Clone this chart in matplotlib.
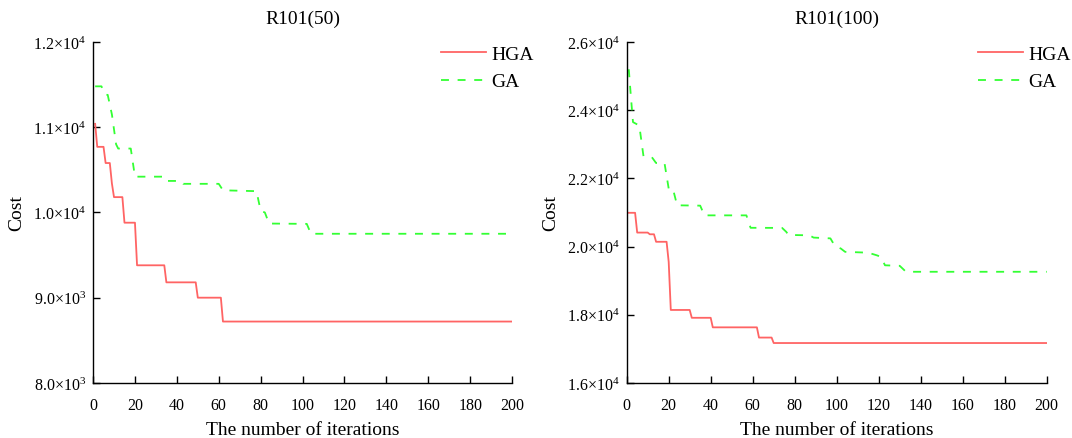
import matplotlib
matplotlib.use("Agg")
import matplotlib.pyplot as plt
from matplotlib.ticker import FuncFormatter
import numpy as np

plt.rcParams['font.family'] = ['Liberation Serif', 'DejaVu Serif']
plt.rcParams['mathtext.fontset'] = 'custom'
plt.rcParams['mathtext.rm'] = 'Liberation Serif'
plt.rcParams['mathtext.it'] = 'Liberation Serif:italic'
plt.rcParams['mathtext.default'] = 'regular'

# R101(50) - cost vs iteration
hga50_iter = [1, 2, 5, 6, 8, 9, 10, 14, 15, 20, 21, 34, 35, 49, 50, 61, 62, 200]
hga50_cost = [11040, 10770, 10770, 10580, 10580, 10340, 10180, 10180, 9880, 9880,
              9380, 9380, 9180, 9180, 9000, 9000, 8720, 8720]
ga50_iter = [1, 4, 6, 7, 9, 11, 12, 18, 20, 33, 34, 42, 43, 60, 62, 78, 80, 82,
             84, 102, 104, 200]
ga50_cost = [11480, 11480, 11380, 11380, 11150, 10800, 10750, 10750, 10420, 10420,
             10370, 10370, 10336, 10336, 10260, 10250, 10020, 10000, 9870, 9866,
             9750, 9750]

# R101(100)
hga100_iter = [1, 4, 5, 10, 11, 13, 14, 19, 20, 21, 30, 31, 40, 41, 62, 63, 69, 70, 200]
hga100_cost = [20990, 20990, 20410, 20410, 20360, 20360, 20140, 20140, 19550, 18140,
               18140, 17910, 17910, 17630, 17630, 17330, 17330, 17170, 17170]
ga100_iter = [1, 2, 3, 6, 8, 12, 14, 18, 20, 22, 24, 35, 37, 57, 59, 74, 76, 77,
              87, 89, 97, 99, 102, 104, 115, 119, 121, 123, 130, 133, 200]
ga100_cost = [25200, 24400, 23650, 23550, 22650, 22620, 22450, 22450, 21700, 21700,
              21210, 21200, 20915, 20915, 20550, 20547, 20430, 20340, 20330, 20263,
              20240, 20030, 19940, 19845, 19820, 19745, 19700, 19450, 19435, 19260,
              19260]

titles = ['R101(50)', 'R101(100)']
yticks_50 = [8000, 9000, 10000, 11000, 12000]
yticks_100 = [16000, 18000, 20000, 22000, 24000, 26000]
xticks = np.arange(0, 201, 20)


def sci_label(v, pos):
    e = int(np.floor(np.log10(v)))
    m = v / 10 ** e
    return f'{m:.1f}×10$^{{{e}}}$'


fig = plt.figure(figsize=(10.72, 4.39), dpi=100)
ax1 = fig.add_axes([0.0868, 0.1255, 0.3909, 0.7765])
ax2 = fig.add_axes([0.5846, 0.1255, 0.3918, 0.7765])

panels = [
    (ax1, hga50_iter, hga50_cost, ga50_iter, ga50_cost, yticks_50, 0.83),
    (ax2, hga100_iter, hga100_cost, ga100_iter, ga100_cost, yticks_100, 0.836),
]

for i, (ax, hx, hy, gx, gy, yt, lx) in enumerate(panels):
    ax.plot(hx, hy, color='#FF6464', lw=1.3, label='HGA')
    ax.plot(gx, gy, color='#33FF33', lw=1.3, ls=(0, (4.4, 4.8)), label='GA')
    ax.set_xlim(0, 200)
    ax.set_ylim(yt[0], yt[-1])
    ax.set_xticks(xticks)
    ax.set_yticks(yt)
    ax.yaxis.set_major_formatter(FuncFormatter(sci_label))
    for s in ['top', 'right']:
        ax.spines[s].set_visible(False)
    for s in ['left', 'bottom']:
        ax.spines[s].set_linewidth(1.0)
    ax.tick_params(direction='in', length=5, width=1.0, labelsize=11.5)
    ax.tick_params(axis='y', pad=5)
    ax.tick_params(axis='x', pad=10)
    ax.set_title(titles[i], fontsize=14, pad=14)
    ax.set_xlabel('The number of iterations', fontsize=14, labelpad=6)
    ax.set_ylabel('Cost', fontsize=14, labelpad=6)
    ax.legend(loc='upper left', bbox_to_anchor=(lx, 0.99), frameon=False,
              fontsize=14, handlelength=2.3, handletextpad=0.3,
              labelspacing=0.5, borderpad=0, borderaxespad=0)

fig.savefig('out.png', dpi=100)
